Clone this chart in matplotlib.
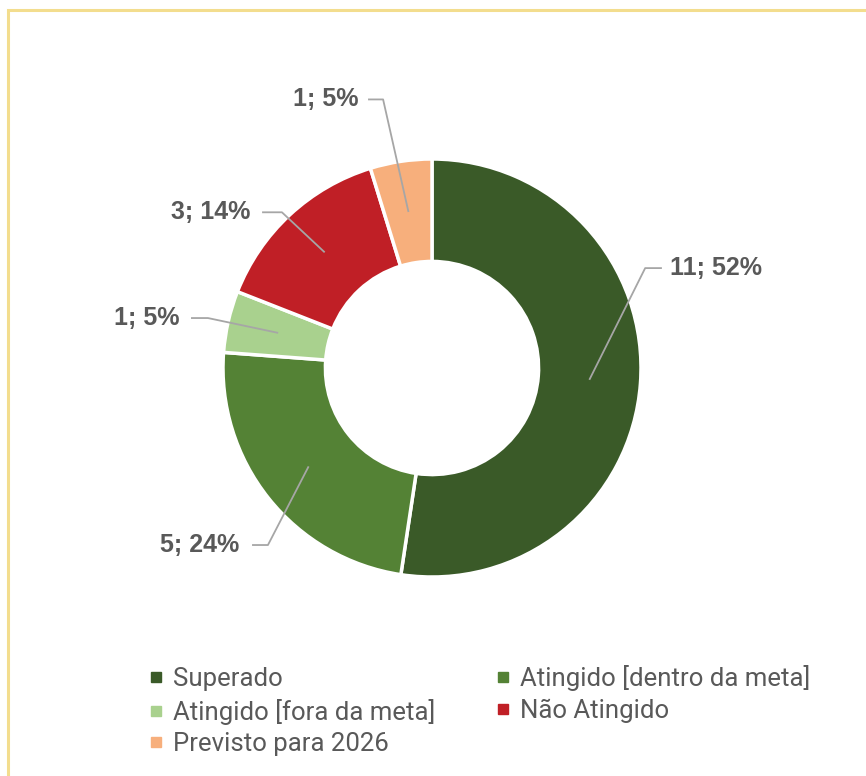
import numpy as np
import matplotlib.pyplot as plt
from matplotlib.lines import Line2D
from matplotlib.patches import Rectangle

# Data
categories = ['Superado', 'Atingido [dentro da meta]', 'Atingido [fora da meta]',
              'Não Atingido', 'Previsto para 2026']
values = [11, 5, 1, 3, 1]
colors = ['#3A5A28', '#548235', '#A9D18E', '#C01F26', '#F7AF7C']

# label placement (data units, pie radius = 1): text anchor, elbow x, horizontal end x, ha
label_pos = [(1.14, 0.478, 1.02, 1.10, 'left'),
             (-0.92, -0.847, -0.785, -0.861, 'right'),
             (-1.206, 0.239, -1.072, -1.153, 'right'),
             (-0.871, 0.745, -0.718, -0.813, 'right'),
             (-0.354, 1.285, -0.234, -0.306, 'right')]

W, H = 866, 776
fig = plt.figure(figsize=(W / 100, H / 100), dpi=100)
fig.patches.append(Rectangle((8 / W, -0.1), 1.1, (H - 10) / H + 0.1, transform=fig.transFigure,
                             fill=False, edgecolor='#F3DD8E', linewidth=2.2))

R = 209
cx, cy = 432, 368
side = 600
ax = fig.add_axes([(cx - side / 2) / W, (H - cy - side / 2) / H, side / W, side / H])

width = 0.49
ax.pie(values, colors=colors, startangle=90, counterclock=False, radius=1,
       wedgeprops=dict(width=width, edgecolor='white', linewidth=2.5))
lim = side / 2 / R
ax.set_xlim(-lim, lim)
ax.set_ylim(-lim, lim)
ax.set_aspect('equal')
ax.axis('off')

total = sum(values)
cum = 0
rmid = 1 - width / 2
for v, (tx, ty, ex, hx, ha) in zip(values, label_pos):
    mid = 90 - (cum + v / 2) / total * 360
    cum += v
    px, py = rmid * np.cos(np.radians(mid)), rmid * np.sin(np.radians(mid))
    ax.plot([px, ex, hx], [py, ty, ty], color='#A6A6A6', linewidth=1.3, solid_capstyle='butt')
    ax.text(tx, ty, f'{v}; {round(v / total * 100)}%', ha=ha, va='center',
            fontsize=18, fontweight='bold', color='#595959', family='Liberation Sans')

# legend, filled row-wise
order = [0, 2, 4, 1, 3]
handles = [Line2D([], [], linestyle='none', marker='s', markersize=7,
                  color=colors[i]) for i in order]
fig.legend(handles, [categories[i] for i in order], ncol=2, loc='upper left',
           bbox_to_anchor=(150 / W, 1 - 665 / H), frameon=False,
           prop=dict(family='Roboto', size=18.5), labelcolor='#595959',
           handlelength=0.5, handletextpad=0.4, columnspacing=2.4, labelspacing=0.3,
           borderpad=0, borderaxespad=0)

fig.savefig('out.png', dpi=100)
